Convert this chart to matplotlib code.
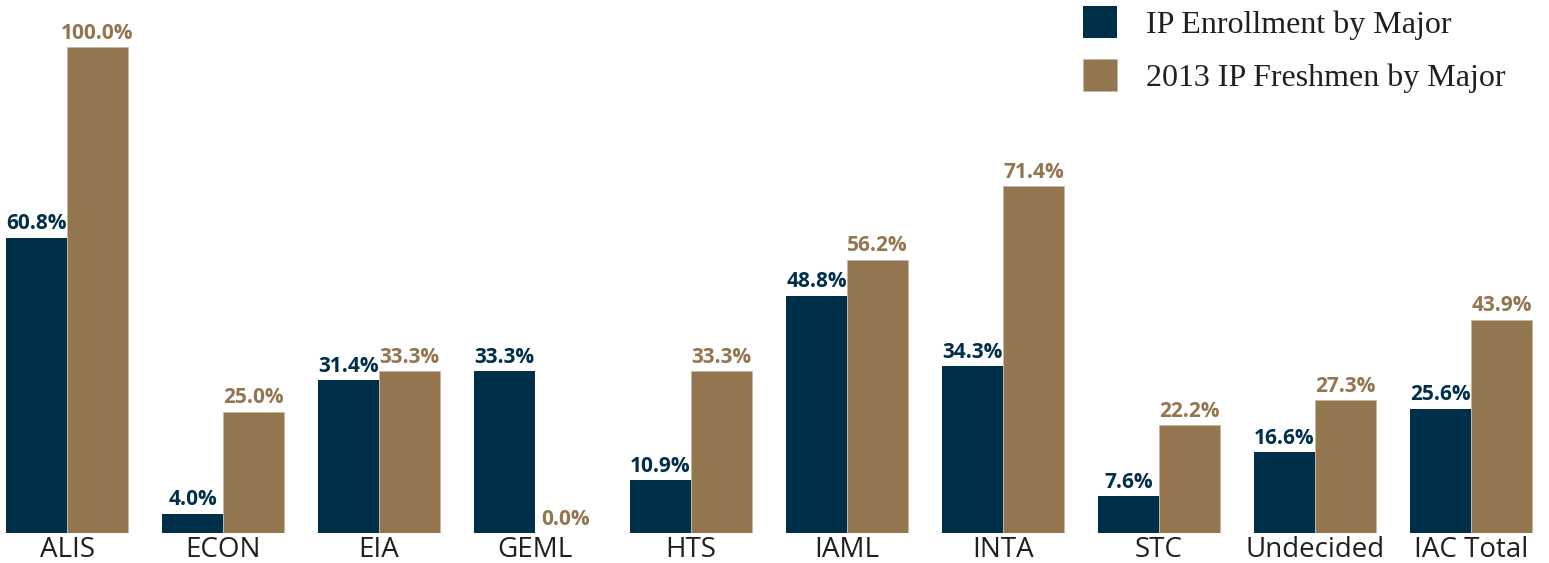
import matplotlib.pyplot as plt
import numpy as np

# данные по специальностям
majors = ['ALIS', 'ECON', 'EIA', 'GEML', 'HTS', 'IAML', 'INTA', 'STC', 'Undecided', 'IAC Total']
enrollment = [60.8, 4.0, 31.4, 33.3, 10.9, 48.8, 34.3, 7.6, 16.6, 25.6]
freshmen = [100.0, 25.0, 33.3, 0.0, 33.3, 56.2, 71.4, 22.2, 27.3, 43.9]
series_names = ['IP Enrollment by Major', '2013 IP Freshmen by Major']

navy = '#002f4a'
tan = '#937550'

fig = plt.figure(figsize=(15.49, 5.63), dpi=100)
ax = fig.add_axes([0, 30 / 563, 1, 533 / 563])

x = np.arange(len(majors))
w = 61 / 156
b1 = ax.bar(x - w / 2, enrollment, w, color=navy, label=series_names[0])
b2 = ax.bar(x + w / 2, freshmen, w, color=tan, label=series_names[1],
            edgecolor='#c9b79f', linewidth=0.6)

for bars, vals, col in [(b1, enrollment, navy), (b2, freshmen, tan)]:
    for bar, v in zip(bars, vals):
        ax.annotate('%.1f%%' % v, (bar.get_x() + bar.get_width() / 2, v),
                    xytext=(0, 2.5), textcoords='offset points', ha='center', va='bottom',
                    color=col, fontsize=15, fontweight='bold', family='Open Sans')

ax.set_xlim(-67 / 156, (1549 - 67) / 156)
ax.set_ylim(0, 533 / 486 * 100)
ax.set_xticks(x)
ax.set_xticklabels(majors, fontsize=20, family='Open Sans', color='#231f20')
ax.tick_params(axis='x', length=0, pad=2)
ax.set_yticks([])
for s in ax.spines.values():
    s.set_visible(False)

ax.legend(loc='upper left', bbox_to_anchor=(1083 / 1549, 1 - 6 / 563), bbox_transform=fig.transFigure,
          frameon=False, prop={'family': 'Liberation Serif', 'size': 23},
          handlelength=1.07, handleheight=1.15, handletextpad=0.9, labelspacing=0.6,
          borderpad=0, borderaxespad=0, labelcolor='#231f20')

plt.savefig('out.png', dpi=100)
